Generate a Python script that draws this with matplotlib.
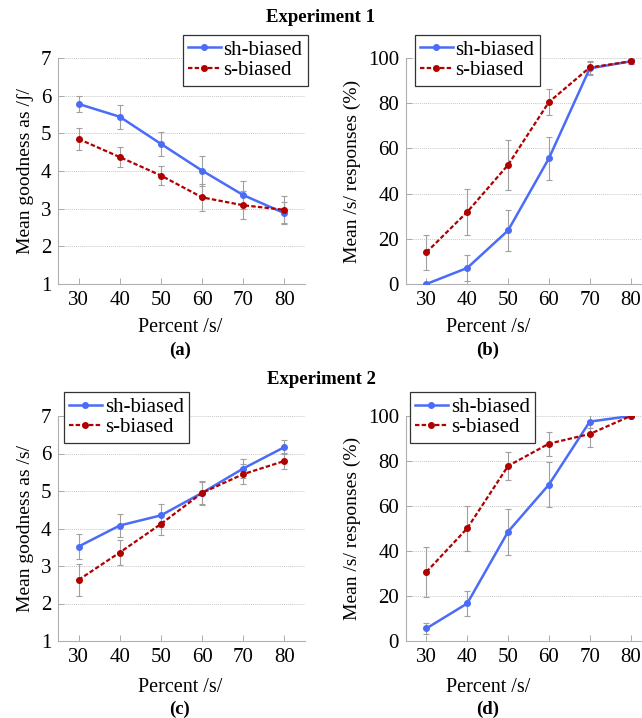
import matplotlib
matplotlib.use("Agg")
import matplotlib.pyplot as plt

plt.rcParams['font.family'] = 'serif'
plt.rcParams['font.serif'] = ['Liberation Serif', 'DejaVu Serif']
plt.rcParams['font.size'] = 12.5

pct = [30, 40, 50, 60, 70, 80]

# Experiment 1
a_sh = [5.78, 5.44, 4.72, 4.01, 3.36, 2.88]
a_sh_err = [0.22, 0.32, 0.32, 0.40, 0.37, 0.30]
a_s = [4.85, 4.37, 3.88, 3.30, 3.09, 2.97]
a_s_err = [0.28, 0.27, 0.26, 0.35, 0.37, 0.36]

b_sh = [0.0, 7.1, 23.7, 55.6, 95.4, 98.5]
b_sh_err = [0.5, 5.7, 9.2, 9.5, 3.0, 1.0]
b_s = [14.0, 31.9, 52.7, 80.5, 95.8, 98.5]
b_s_err = [7.6, 10.0, 11.0, 5.9, 3.0, 1.0]

# Experiment 2
c_sh = [3.52, 4.08, 4.35, 4.95, 5.60, 6.17]
c_sh_err = [0.34, 0.31, 0.31, 0.32, 0.25, 0.18]
c_s = [2.63, 3.36, 4.12, 4.95, 5.45, 5.80]
c_s_err = [0.42, 0.33, 0.30, 0.30, 0.26, 0.22]

d_sh = [5.6, 16.7, 48.6, 69.5, 97.5, 100.0]
d_sh_err = [2.6, 5.4, 10.2, 10.0, 3.0, 0.0]
d_s = [30.7, 50.1, 77.8, 87.7, 92.0, 100.0]
d_s_err = [11.2, 9.9, 6.4, 5.4, 5.6, 0.0]

BLUE = '#4a6cf7'
RED = '#b00000'
W, H = 642, 718

fig = plt.figure(figsize=(W / 100, H / 100), dpi=100)


def panel(left, right, top, bottom, sh, sh_err, s, s_err, ylim, yticks, ylabel,
          leg_box):
    ax = fig.add_axes([left / W, 1 - bottom / H, (right - left) / W, (bottom - top) / H])
    ax.errorbar(pct, sh, yerr=sh_err, fmt='none', ecolor='#a0a0a0', elinewidth=0.8,
                capsize=2, capthick=0.8, zorder=2)
    ax.errorbar(pct, s, yerr=s_err, fmt='none', ecolor='#a0a0a0', elinewidth=0.8,
                capsize=2, capthick=0.8, zorder=2)
    ax.plot(pct, sh, '-o', color=BLUE, lw=1.8, ms=4, label='sh-biased', zorder=3)
    ax.plot(pct, s, '--o', color=RED, lw=1.6, ms=4, dashes=(2.0, 1.0),
            label='s-biased', zorder=4)
    ax.set_xlim(25, 85)
    ax.set_ylim(*ylim)
    ax.set_xticks(pct)
    ax.set_yticks(yticks)
    for sp in ('top', 'right'):
        ax.spines[sp].set_visible(False)
    for sp in ('left', 'bottom'):
        ax.spines[sp].set_color('#b0b0b0')
        ax.spines[sp].set_linewidth(0.8)
    ax.tick_params(direction='in', length=4, width=0.6, color='#a0a0a0',
                   labelsize=15, pad=5)
    ax.yaxis.grid(True, linestyle=(0, (1, 1)), color='#c8c8c8', lw=0.7)
    ax.set_axisbelow(True)
    ax.set_ylabel(ylabel, fontsize=14, labelpad=5)
    lx0, ly0, lx1, ly1 = leg_box
    ax.legend(loc='upper left',
              bbox_to_anchor=((lx0 - left) / (right - left), (bottom - ly0) / (bottom - top)),
              bbox_transform=ax.transAxes, fontsize=15, frameon=True, fancybox=False,
              edgecolor='#333333', framealpha=1, borderpad=0.25, labelspacing=0.05,
              handlelength=1.55, handletextpad=0.15, borderaxespad=0)
    ax.legend_.get_frame().set_linewidth(0.9)
    return ax


panel(58, 305, 58, 284, a_sh, a_sh_err, a_s, a_s_err, (1, 7), range(1, 8),
      'Mean goodness as /ʃ/', (183, 35, 305, 84))
panel(406, 651, 58, 284, b_sh, b_sh_err, b_s, b_s_err, (0, 100), range(0, 101, 20),
      'Mean /s/ responses (%)', (415, 35, 540, 84))
panel(58, 305, 416, 641, c_sh, c_sh_err, c_s, c_s_err, (1, 7), range(1, 8),
      'Mean goodness as /s/', (64, 392, 186, 442))
panel(406, 651, 416, 641, d_sh, d_sh_err, d_s, d_s_err, (0, 100), range(0, 101, 20),
      'Mean /s/ responses (%)', (410, 392, 542, 442))

for y, txt in [(17, 'Experiment 1'), (379, 'Experiment 2')]:
    fig.text(321 / W, 1 - y / H, txt, ha='center', va='center', fontsize=13.5,
             fontweight='bold')
for x, y, lab in [(180, 328, '(a)'), (488, 328, '(b)'),
                  (180, 687, '(c)'), (488, 687, '(d)')]:
    fig.text(x / W, 1 - y / H, 'Percent /s/', ha='center', va='center', fontsize=14.5)
    fig.text(x / W, 1 - (y + 22) / H, lab, ha='center', va='center', fontsize=13.5,
             fontweight='bold')

fig.savefig('out.png', dpi=100)
